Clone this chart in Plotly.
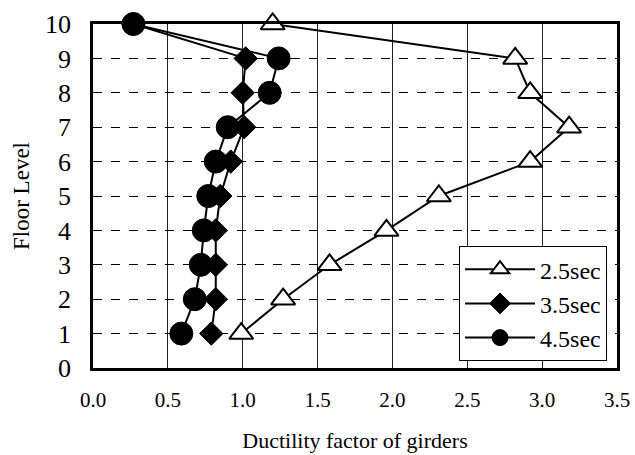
import plotly.graph_objects as go

floors = [1, 2, 3, 4, 5, 6, 7, 8, 9, 10]
s25 = [0.99, 1.27, 1.58, 1.96, 2.31, 2.92, 3.18, 2.92, 2.82, 1.20]
s35 = [0.79, 0.82, 0.82, 0.82, 0.85, 0.92, 1.01, 1.00, 1.02, 0.27]
s45 = [0.59, 0.68, 0.72, 0.74, 0.77, 0.82, 0.90, 1.18, 1.24, 0.27]
names = ["2.5sec", "3.5sec", "4.5sec"]
xticks = [0.0, 0.5, 1.0, 1.5, 2.0, 2.5, 3.0, 3.5]
yticks = list(range(0, 11))

font = "Liberation Serif, Times New Roman, serif"
fig = go.Figure()
fig.add_trace(go.Scatter(x=s25, y=floors, name=names[0], mode="lines+markers",
                         line=dict(color="black", width=2),
                         marker=dict(symbol="triangle-up", size=21, color="white",
                                     line=dict(color="black", width=2)),
                         cliponaxis=False))
fig.add_trace(go.Scatter(x=s35, y=floors, name=names[1], mode="lines+markers",
                         line=dict(color="black", width=2),
                         marker=dict(symbol="diamond", size=18, color="black",
                                     line=dict(color="black", width=1)),
                         cliponaxis=False))
fig.add_trace(go.Scatter(x=s45, y=floors, name=names[2], mode="lines+markers",
                         line=dict(color="black", width=2),
                         marker=dict(symbol="circle", size=23, color="black",
                                     line=dict(color="black", width=1)),
                         cliponaxis=False))

fig.update_layout(
    width=635, height=455,
    margin=dict(l=93, r=18, t=24, b=87),
    paper_bgcolor="white", plot_bgcolor="white",
    font=dict(family=font, color="black"),
    xaxis=dict(range=[0, 3.5], tickvals=xticks, ticktext=[f"{v:.1f}" for v in xticks],
               showgrid=True, gridcolor="#222", gridwidth=1, automargin=False,
               showline=True, linecolor="black", linewidth=2.5, mirror=True,
               ticks="", tickfont=dict(size=21), zeroline=False, ticklabelstandoff=11,
               title=dict(text="Ductility factor of girders", font=dict(size=22), standoff=22)),
    yaxis=dict(range=[0, 10], tickvals=yticks, automargin=False,
               showgrid=True, gridcolor="black", gridwidth=1, griddash="dash",
               showline=True, linecolor="black", linewidth=2.5, mirror=True,
               ticks="", tickfont=dict(size=26), zeroline=False, ticklabelstandoff=14,
               title=dict(text="Floor Level", font=dict(size=23), standoff=9)),
    legend=dict(x=0.981, y=0.02, xanchor="right", yanchor="bottom",
                bgcolor="white", bordercolor="black", borderwidth=1,
                font=dict(size=24, family=font), tracegroupgap=0, itemwidth=70),
    showlegend=True,
)
fig.write_html("out.html")
